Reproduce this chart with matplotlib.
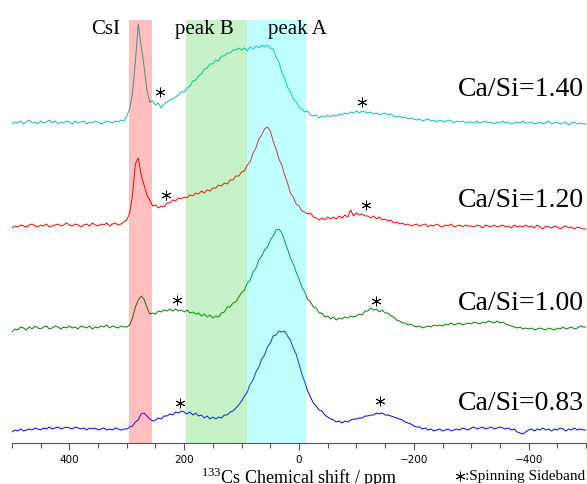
import numpy as np
import matplotlib
matplotlib.use("Agg")
import matplotlib.pyplot as plt

plt.rcParams['mathtext.fontset'] = 'custom'
plt.rcParams['mathtext.rm'] = 'Liberation Serif'

# chemical shift grid (ppm), 5 ppm steps from 500 to -500
ppm = np.arange(500, -501, -5)

# intensities (a.u., relative to each trace's own baseline)
int_140 = [
    -1, 1, 0, 2, -1, 1, 3, 0, 1, -1, 2, 0, 1, 3, 0, 2, -1, 1, 0, 2,
    1, -1, 2, 0, 1, 2, -1, 1, 0, 2, 1, -1, 0, 2, 1, 0, 2, 1, 3, 2,
    7, 14, 30, 62, 99, 77, 57, 33, 21, 22, 18, 20, 15, 19, 21, 23, 24, 26, 28, 31,
    31, 35, 37, 42, 43, 47, 49, 54, 55, 59, 59, 63, 62, 67, 67, 70, 70, 73, 73, 75,
    73, 75, 72, 76, 74, 77, 75, 78, 76, 78, 75, 74, 66, 61, 51, 45, 36, 31, 24, 21,
    16, 14, 11, 12, 8, 7, 8, 5, 7, 6, 8, 6, 8, 7, 9, 8, 10, 9, 11, 10,
    12, 10, 12, 11, 10, 11, 9, 10, 8, 9, 10, 8, 9, 7, 6, 7, 5, 6, 4, 5,
    4, 3, 4, 2, 3, 4, 2, 3, 1, 3, 2, 1, 3, 2, 0, 2, 1, 2, 0, 1,
    1, 0, 2, 0, 1, 2, 0, 1, -1, 1, 0, 2, 0, 1, -1, 0, 1, 0, 2, 0,
    0, 1, -1, 0, 1, -1, 0, 2, -1, 0, 1, -1, 0, 1, -2, 0, 1, -1, 0, -1,
    -1]

int_120 = [
    -2, 0, -1, 1, 0, -1, 1, 2, 0, -1, 1, 0, 2, -1, 0, 1, 2, 0, 1, 3,
    1, 0, 2, 1, -1, 1, 2, 0, 3, 1, 0, 2, 1, 3, 0, 2, 3, 1, 2, 4,
    6, 13, 31, 62, 68, 51, 41, 31, 26, 20, 21, 18, 20, 19, 23, 23, 26, 25, 28, 27,
    29, 28, 31, 30, 33, 32, 35, 33, 36, 35, 38, 38, 41, 40, 43, 42, 46, 46, 50, 50,
    54, 55, 61, 64, 73, 78, 87, 91, 97, 99, 95, 85, 77, 67, 61, 51, 43, 33, 29, 22,
    20, 15, 14, 12, 13, 9, 8, 6, 8, 6, 9, 7, 9, 7, 10, 8, 11, 9, 16, 10,
    13, 11, 12, 10, 10, 8, 10, 7, 9, 6, 7, 5, 6, 3, 4, 2, 3, 1, 2, 0,
    1, 2, 0, 1, 2, -1, 1, 0, 2, 0, -1, 1, 0, 2, -1, 0, 1, -1, 1, 0,
    0, -1, 1, 0, -2, 1, 0, -1, 1, -1, 0, 1, -1, 0, -2, 1, -1, 0, -1, 1,
    -1, 0, -2, 1, -1, -3, 0, -1, -2, 0, -1, -3, -1, 0, -2, -1, -3, -1, -2, -3,
    -3]

int_100 = [
    -4, -1, -2, 1, 0, -2, 1, -1, 2, 0, -1, 1, 2, -1, 0, 2, 1, -1, 1, 0,
    2, 0, 1, -1, 2, 1, 0, 2, -1, 1, 0, 2, 1, 3, 0, 2, 1, 0, 2, 1,
    1, 3, 10, 21, 28, 32, 29, 21, 14, 15, 14, 17, 16, 18, 17, 19, 17, 19, 17, 18,
    16, 18, 15, 16, 14, 15, 12, 14, 11, 13, 10, 12, 11, 15, 16, 21, 21, 25, 26, 31,
    35, 38, 45, 48, 56, 60, 68, 72, 78, 81, 88, 92, 98, 99, 95, 87, 79, 70, 64, 56,
    49, 41, 36, 29, 26, 21, 20, 15, 15, 11, 12, 9, 11, 8, 10, 9, 11, 10, 12, 11,
    12, 14, 13, 17, 17, 20, 18, 19, 16, 18, 15, 15, 12, 11, 8, 7, 5, 5, 3, 4,
    2, 1, 2, 0, 1, 2, 1, 3, 2, 3, 2, 4, 3, 5, 3, 4, 5, 3, 4, 5,
    4, 6, 5, 4, 6, 5, 7, 6, 5, 7, 5, 6, 4, 3, 2, 1, 0, 1, -1, 0,
    -1, 0, -2, -1, 0, -1, -2, 0, -1, -2, 0, -1, 1, -1, 0, 1, -1, 0, 2, 1,
    1]

int_083 = [
    -2, 0, -1, 1, -1, 0, 1, 0, 2, 1, 0, 2, 1, 3, 1, 2, 3, 1, 2, 3,
    2, 1, 3, 2, 1, 2, 0, 2, 1, 2, 0, 1, 2, 0, 1, 0, 2, 1, 0, 1,
    1, 3, 4, 8, 10, 16, 17, 14, 11, 9, 10, 12, 11, 14, 14, 16, 15, 18, 17, 19,
    18, 16, 18, 15, 17, 14, 15, 12, 14, 11, 13, 11, 13, 12, 15, 15, 18, 19, 22, 25,
    29, 34, 38, 46, 50, 58, 63, 71, 75, 83, 87, 94, 95, 99, 98, 99, 94, 90, 82, 76,
    66, 56, 48, 39, 33, 27, 24, 20, 19, 15, 13, 11, 10, 8, 9, 7, 9, 8, 10, 11,
    11, 12, 12, 14, 14, 15, 15, 17, 16, 17, 15, 15, 14, 13, 12, 11, 10, 8, 7, 6,
    4, 3, 3, 1, 2, 0, 1, -1, 0, 1, -1, 0, 1, -1, 0, 1, 0, 2, 1, 0,
    2, 3, 1, 2, 3, 1, 2, 3, 1, 2, 3, 2, 1, 2, 0, 1, -2, -3, -4, -2,
    0, 1, -1, 1, 0, 2, 0, 1, -1, 1, 0, 2, 1, -1, 1, 0, 2, 0, 1, 0,
    0]

series = [int_140, int_120, int_100, int_083]
labels = ["Ca/Si=1.40", "Ca/Si=1.20", "Ca/Si=1.00", "Ca/Si=0.83"]
colors = ["#10BABA", "r", "g", "b"]
offsets = [320, 217, 115, 13]
label_y = [354, 243, 141, 40]

# spinning sideband positions (ppm, height in plot units)
sb_ppm = [242, -109, 232, -117, 212, -135, 208, -141]
sb_y = [351, 341, 248, 238, 143, 142, 40, 42]

# shaded regions (ppm ranges)
band_names = ["CsI", "peak B", "peak A"]
band_lo = [256, 91, -12]
band_hi = [296, 196, 91]
band_colors = ["#FF0000", "#00C800", "#00FFFF"]
band_alpha = [0.25, 0.22, 0.25]
band_label_x = [337, 165, 3]

W, H = 587, 485
fig = plt.figure(figsize=(W / 100, H / 100), dpi=100)
ax = fig.add_axes([12 / W, 41 / H, 574 / W, 423 / H])

for vals, col, off in zip(series, colors, offsets):
    ax.plot(ppm, np.array(vals) + off, color=col, lw=0.7, zorder=2)

for lo, hi, bc, ba in zip(band_lo, band_hi, band_colors, band_alpha):
    ax.axvspan(lo, hi, facecolor=bc, alpha=ba, lw=0, zorder=3)

for name, xl in zip(band_names, band_label_x):
    ax.text(xl, 410, name, ha='center', va='baseline', fontsize=15,
            family='Liberation Serif', zorder=5)

for lab, ly in zip(labels, label_y):
    ax.text(-497, ly, lab, ha='right', va='center', fontsize=20,
            family='Liberation Serif', zorder=5)

ax.plot(sb_ppm, sb_y, ls='none', marker=(6, 2, 0), ms=7, mew=0.6,
        color='black', zorder=5)

ax.set_xlim(500, -500)
ax.set_ylim(0, 423)
for s in ['top', 'left', 'right']:
    ax.spines[s].set_visible(False)
ax.spines['bottom'].set_color('#555555')
ax.set_yticks([])
ax.set_xticks([400, 200, 0, -200, -400])
ax.set_xticks(np.arange(500, -501, -50), minor=True)
ax.tick_params(axis='x', which='major', length=5, width=0.8, color='#555555',
               labelsize=7.5, pad=3)
ax.tick_params(axis='x', which='minor', length=3.5, width=0.8, color='#555555')

fig.text(299 / W, 1 - 484 / H, r"$^{133}$Cs Chemical shift / ppm", ha='center',
         va='baseline', fontsize=13, family='Liberation Serif')

ax.plot([0.7805], [-0.078], transform=ax.transAxes, clip_on=False, ls='none',
        marker=(6, 2, 0), ms=7, mew=0.6, color='black')
fig.text(465 / W, 1 - 477 / H, ":Spinning Sideband", ha='left', va='center',
         fontsize=11, family='Liberation Serif')

fig.savefig("out.png", dpi=100)
